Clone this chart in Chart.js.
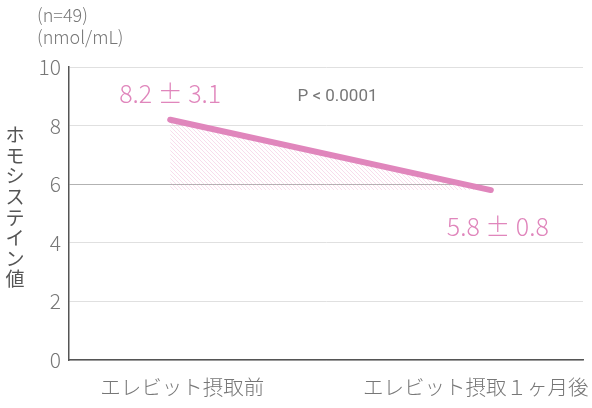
<!DOCTYPE html>
<html>
<head>
<meta charset="utf-8">
<script src="https://cdn.jsdelivr.net/npm/chart.js@4"></script>
<style>
html,body{margin:0;padding:0;background:#fff;}
#wrap{width:592px;height:408px;}
</style>
</head>
<body>
<div id="wrap"><canvas id="c" width="592" height="408"></canvas></div>
<script>
// ---- data ----
const categories = ['エレビット摂取前', 'エレビット摂取１ヶ月後'];
const means = [8.2, 5.8];
const sds = [3.1, 0.8];
const yTicks = [0, 2, 4, 6, 8, 10];
const pText = 'P < 0.0001';
const nText = '(n=49)';
const unitText = '(nmol/mL)';
const yTitle = 'ホモシステイン値';

const FONT = '"Noto Sans CJK JP", "Noto Sans", sans-serif';
const LATIN = 'Roboto, "Liberation Sans", sans-serif';
const PINK = '#e086bc';
const GRAY = '#777777';

// hatch pattern
function makePattern() {
  const s = 4;
  const pc = document.createElement('canvas');
  pc.width = s; pc.height = s;
  const p = pc.getContext('2d');
  p.strokeStyle = 'rgba(232,150,195,0.32)';
  p.lineWidth = 1;
  p.beginPath();
  p.moveTo(0, 0); p.lineTo(s, s);
  p.moveTo(-1, s - 1); p.lineTo(1, s + 1);
  p.moveTo(s - 1, -1); p.lineTo(s + 1, 1);
  p.stroke();
  return p.createPattern(pc, 'repeat');
}

const ctxEl = document.getElementById('c');
const points = means.map((v, i) => ({x: i, y: v}));

const annotations = {
  id: 'annotations',
  afterDatasetsDraw(chart) {
    const {ctx, scales: {x, y}} = chart;
    ctx.save();
    ctx.textAlign = 'center';
    ctx.textBaseline = 'middle';
    // value labels
    ctx.fillStyle = PINK;
    ctx.font = '300 25px ' + FONT;
    ctx.fillText(means[0].toFixed(1) + ' ± ' + sds[0].toFixed(1), x.getPixelForValue(0), y.getPixelForValue(means[0]) - 26);
    ctx.fillText(means[1].toFixed(1) + ' ± ' + sds[1].toFixed(1), x.getPixelForValue(1) + 7, y.getPixelForValue(means[1]) + 36);
    // p value
    ctx.fillStyle = GRAY;
    ctx.font = '400 17px ' + LATIN;
    ctx.fillText(pText, x.getPixelForValue(0.5) + 7, y.getPixelForValue(9));
    // top-left notes
    ctx.textAlign = 'left';
    ctx.font = '300 18px ' + FONT;
    ctx.fillText(nText, 37, 15);
    ctx.fillText(unitText, 37, 37);
    // vertical y title
    ctx.textAlign = 'center';
    ctx.fillStyle = '#555';
    ctx.font = '400 19px ' + FONT;
    const chars = Array.from(yTitle);
    chars.forEach((ch, i) => {
      ctx.fillText(ch, 15, 135 + i * 20.6);
    });
    ctx.restore();
  }
};

new Chart(ctxEl, {
  type: 'line',
  data: {
    datasets: [{
      data: points,
      borderColor: PINK,
      borderWidth: 6,
      borderCapStyle: 'round',
      pointRadius: 0,
      tension: 0,
      fill: {value: means[1]},
      backgroundColor: makePattern()
    }]
  },
  options: {
    responsive: false,
    animation: false,
    devicePixelRatio: 1,
    layout: {padding: {left: 0, top: 67, right: 9, bottom: 0}},
    plugins: {legend: {display: false}, tooltip: {enabled: false}},
    scales: {
      x: {
        type: 'linear',
        min: -0.3156,
        max: 1.2875,
        afterBuildTicks: (axis) => { axis.ticks = [{value: 0.0375}, {value: 0.953}]; },
        afterFit: (s) => { s.height = 48; s.paddingLeft = 0; s.paddingRight = 0; },
        grid: {display: false, drawTicks: false},
        border: {display: true, color: '#555', width: 1.5},
        ticks: {
          autoSkip: false,
          maxRotation: 0,
          padding: 15,
          color: GRAY,
          font: {family: FONT, size: 20.5, weight: '300'},
          callback: (v, i) => categories[i]
        }
      },
      y: {
        min: 0,
        max: 10,
        afterBuildTicks: (axis) => { axis.ticks = yTicks.map(v => ({value: v})); },
        afterFit: (s) => { s.width = 69; },
        grid: {
          drawTicks: false,
          color: (c) => c.tick && c.tick.value === 6 ? '#b2b2b2' : '#e0e0e0',
          lineWidth: 1
        },
        border: {display: true, color: '#555', width: 1.5},
        ticks: {
          padding: 8,
          color: GRAY,
          font: {family: FONT, size: 21, weight: '300'}
        }
      }
    }
  },
  plugins: [annotations]
});
</script>
</body>
</html>
